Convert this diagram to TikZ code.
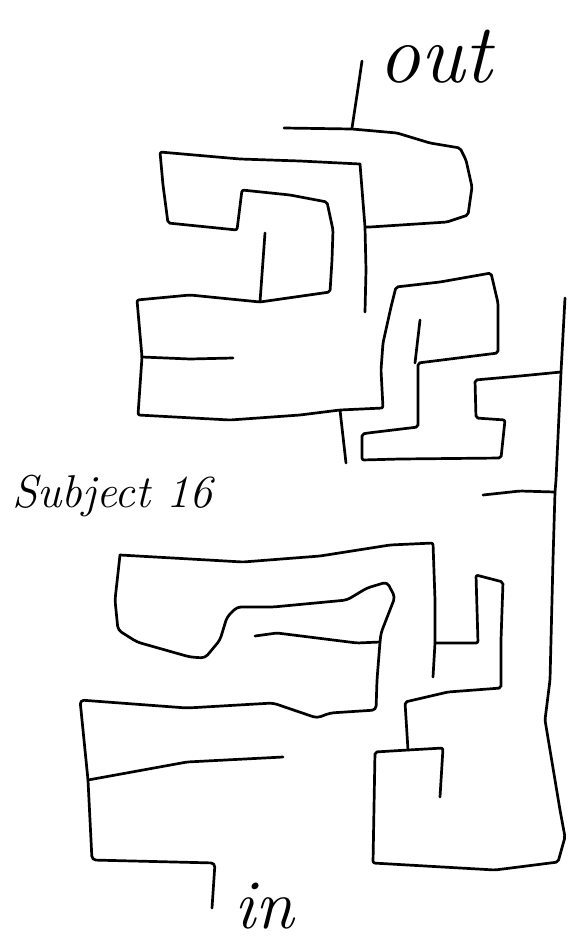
\documentclass[tikz,border=0pt]{standalone}
\usepackage{fontspec}
\begin{document}
\begin{tikzpicture}[x=1pt,y=-1pt,
  wall/.style={line width=2.7pt,line join=round,line cap=round,rounded corners=2pt,black},
  hand/.style={inner sep=0pt,anchor=base west,font=\itshape}]
\useasboundingbox[fill=white] (0,0) rectangle (568,948);
% exit stem
\draw[wall] (362,61) -- (357,95) -- (352,128);
% top right box
\draw[wall] (284,128) -- (352,129) -- (397,133) -- (430,143) -- (460,148) -- (466,160) -- (472,187) -- (468,215) -- (447,222) -- (370,227) -- (365,227);
% central vertical
\draw[wall] (360,164) -- (365,227) -- (366,270) -- (365,312);
% big left structure and S-shape
\draw[wall] (360,164) -- (300,161) -- (240,159) -- (160,152) -- (163,185) -- (168,223) -- (237,230) -- (242,190) -- (290,195) -- (327,202) -- (333,230) -- (332,260) -- (330,292) -- (260,302) -- (190,295) -- (137,300) -- (142,357) -- (138,415) -- (230,420) -- (300,415) -- (340,410) -- (383,408) -- (381,370) -- (383,343) -- (391,307) -- (396,287) -- (440,282) -- (491,273) -- (498,303) -- (498,353) -- (418,363) -- (418,395) -- (418,427) -- (368,433) -- (362,434) -- (362,460) -- (400,459) -- (501,458) -- (505,420) -- (476,418) -- (475,380) -- (520,376) -- (561,372);
% stubs
\draw[wall] (265,233) -- (260,302);
\draw[wall] (142,357) -- (190,359) -- (233,358);
\draw[wall] (420,320) -- (415,363);
\draw[wall] (340,410) -- (346,463);
\draw[wall] (483,495) -- (520,491) -- (555,492);
% right long wall and bottom right box
\draw[wall] (565,298) -- (561,372) -- (556,480) -- (555,492) -- (553,560) -- (550,680) -- (545,720) -- (560,810) -- (565,837) -- (558,862) -- (495,870) -- (373,863) -- (375,752) -- (408,750) -- (443,748) -- (440,797);
\draw[wall] (408,750) -- (405,702) -- (448,692) -- (501,688) -- (501,640) -- (503,582) -- (476,575) -- (478,643) -- (435,643);
% middle box
\draw[wall] (120,555) -- (243,562) -- (320,556) -- (390,545) -- (433,543) -- (435,600) -- (435,643) -- (433,677);
% blob and lower-left box
\draw[wall,rounded corners=4pt] (120,555) -- (115,600) -- (118,630) -- (137,642) -- (190,657) -- (205,658) -- (220,640) -- (227,617) -- (237,607) -- (273,607) -- (347,600) -- (367,588) -- (387,582) -- (395,597) -- (381,633) -- (380,642) -- (377,680) -- (376,710) -- (330,713) -- (317,718) -- (273,703) -- (187,708) -- (80,700) -- (88,780) -- (92,860) -- (215,863) -- (212,908);
\draw[wall] (380,642) -- (357,643) -- (277,633) -- (255,636);
\draw[wall] (88,780) -- (187,762) -- (283,757);
% texts
\node[hand,font=\itshape\fontsize{84}{90}\selectfont] (outtxt) at (378,82) {out};
\node[hand,font=\itshape\fontsize{46}{52}\selectfont] (subj) at (12,507) {Subject 16};
\node[hand,font=\itshape\fontsize{70}{80}\selectfont] (intxt) at (234,928) {in};
\end{tikzpicture}
\end{document}
